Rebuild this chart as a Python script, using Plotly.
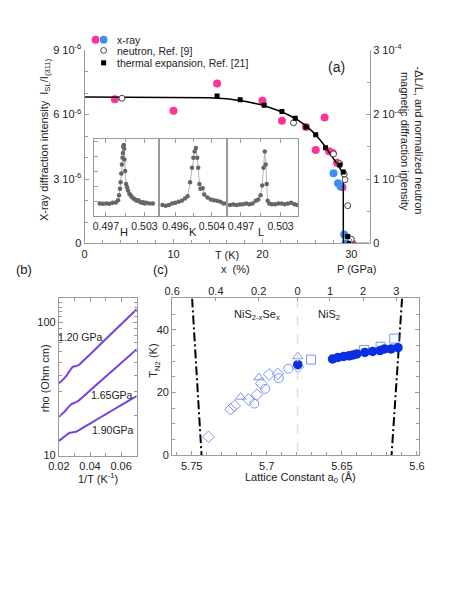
import plotly.graph_objects as go

W, H = 457, 591
OFF = 8  # page body margin
FONT = "Arial, Liberation Sans, sans-serif"
GRAY = "#9a9a9a"
PINK = "#ff3399"
BLUE = "#3d8ef5"
DEEP = "#0a2fe0"
LIGHT = "#7c96f0"
PURPLE = "#7b3fe0"

# ---------------- panel (a): order parameter vs T ----------------
xray_pink_T = [3.4, 10.0, 14.9, 20.0, 22.2, 24.9, 26.0, 27.0, 27.5, 27.9, 28.4, 29.0, 30.1]
xray_pink_I = [6.71e-6, 6.18e-6, 7.45e-6, 6.65e-6, 5.71e-6, 5.42e-6, 4.35e-6, 5.86e-6,
               4.29e-6, 4.21e-6, 3.76e-6, 2.62e-6, 0.0]
xray_blue_T = [28.0, 28.5, 28.8, 29.2, 29.4]
xray_blue_I = [3.27e-6, 2.80e-6, 2.65e-6, 0.42e-6, 0.01e-6]

# right axis units (-dL/L, normalized neutron)
fit_T = [0, 5, 10, 12, 14, 16, 18, 20, 22, 23, 24, 25, 26, 27, 28, 28.5, 29.1, 29.1, 32]
fit_R = [2.273e-4, 2.273e-4, 2.27e-4, 2.27e-4, 2.263e-4, 2.247e-4, 2.207e-4, 2.15e-4, 2.053e-4,
         1.99e-4, 1.913e-4, 1.817e-4, 1.69e-4, 1.517e-4, 1.327e-4, 1.217e-4, 1.083e-4, 0, 0]
thermal_T = [14.9, 17.5, 20.2, 22.2, 23.7, 24.9, 26.0, 27.1, 28.7, 29.1, 29.6, 29.8]
thermal_R = [2.287e-4, 2.23e-4, 2.147e-4, 2.047e-4, 1.943e-4, 1.807e-4, 1.687e-4, 1.487e-4,
             1.217e-4, 1.11e-4, 0.107e-4, 0.0]
neutron_T = [4.2, 23.5, 28.0, 28.7, 29.2, 29.3, 29.6, 30.0]
neutron_R = [2.253e-4, 1.873e-4, 1.39e-4, 1.237e-4, 1.077e-4, 0.99e-4, 0.587e-4, 0.067e-4]

# inset scans
scan_H = [0.49605, 0.49655, 0.49705, 0.49755, 0.49805, 0.49855, 0.4989, 0.49905, 0.4992, 0.4993,
          0.4994, 0.4995, 0.4996, 0.49965, 0.4997, 0.4998, 0.49985, 0.4999, 0.5000, 0.50015,
          0.5003, 0.50045, 0.50065, 0.50085, 0.50105, 0.5013, 0.50155, 0.5018, 0.50205, 0.5023,
          0.50255, 0.5028, 0.50305, 0.5033, 0.5038, 0.5043]
scan_H_I = [13, 12.7, 13, 12.7, 13.7, 14, 16.3, 21.3, 28, 34.7, 43.7, 53, 59.7, 64.7, 71.3, 73,
            69, 58, 46.3, 33, 29.7, 26.3, 23, 21.3, 19.7, 18, 17, 15.7, 16.3, 14.7, 13.7, 14.3,
            13, 13.7, 13, 13]
scan_K = [0.4932, 0.49389, 0.49459, 0.49531, 0.496, 0.4967, 0.49741, 0.49811, 0.49867, 0.49922,
          0.49964, 0.49994, 0.50021, 0.50048, 0.50078, 0.50099, 0.50126, 0.50147, 0.50196,
          0.50232, 0.50301, 0.50373, 0.50442, 0.50511, 0.50583, 0.50653, 0.50722]
scan_K_I = [11.3, 10.7, 11.3, 13, 13.7, 14.7, 15.7, 18, 20.3, 34.7, 49.7, 59.7, 66.3, 69.7, 59.7,
            49.7, 33, 28, 28.7, 22.3, 19, 17, 16.3, 15.7, 14.7, 13, 13]
scan_L = [0.49535, 0.49583, 0.49631, 0.49681, 0.49729, 0.49778, 0.49827, 0.49876, 0.49924,
          0.49963, 0.49997, 0.50022, 0.50041, 0.50061, 0.50076, 0.50091, 0.50105, 0.50129,
          0.50168, 0.50218, 0.50266, 0.50314, 0.50363, 0.50412, 0.50461, 0.5051, 0.50555]
scan_L_I = [11.3, 12, 11.3, 12, 12.3, 13, 12.3, 13, 15.7, 17, 21.3, 31.3, 49.7, 66.3, 53, 33,
            15.7, 13, 12.3, 12.3, 13, 13, 12.3, 13, 13.7, 12.3, 11.3]

# ---------------- panel (b): resistivity ----------------
inv_T_120 = [0.020, 0.022, 0.025, 0.028, 0.029, 0.031, 0.033, 0.035, 0.040, 0.050, 0.060, 0.070]
rho_120 = [35, 36.5, 40, 45, 46.3, 47, 48, 50.5, 57.4, 74.5, 96.6, 125]
inv_T_165 = [0.020, 0.023, 0.026, 0.028, 0.030, 0.032, 0.035, 0.040, 0.050, 0.060, 0.070]
rho_165 = [19.6, 21, 23, 24.3, 24.9, 25.5, 27.3, 30.8, 39, 49.4, 62.8]
inv_T_190 = [0.020, 0.023, 0.026, 0.028, 0.031, 0.034, 0.040, 0.050, 0.060, 0.070]
rho_190 = [12.9, 13.7, 14.6, 14.9, 15.1, 15.8, 17.4, 20.4, 23.9, 28.0]

# ---------------- panel (c): T_N2 vs lattice constant ----------------
a_pressure = [5.6793, 5.6562, 5.6526, 5.6488, 5.6452, 5.6425, 5.6400, 5.6347, 5.6295,
              5.6246, 5.6216, 5.6172, 5.6126]
tn_pressure = [28.9, 30.7, 31.2, 31.5, 31.7, 32.0, 32.3, 32.8, 33.1, 33.4, 33.9, 33.9, 34.3]
a_diamond = [5.7388, 5.7241, 5.7214, 5.7121, 5.7066, 5.7037, 5.6984, 5.6926, 5.6793]
tn_diamond = [5.9, 14.7, 15.8, 17.8, 19.3, 22.9, 25.8, 26.0, 28.2]
a_triangle = [5.7174, 5.7052, 5.6793]
tn_triangle = [18.6, 24.8, 31.5]
a_circle = [5.7083, 5.7010, 5.6920, 5.6856]
tn_circle = [16.5, 21.2, 24.6, 27.6]
a_square = [5.6705, 5.6352, 5.6242, 5.6151]
tn_square = [30.5, 33.6, 34.6, 37.2]
bound_left_a = [5.7497, 5.7434]
bound_right_a = [5.6099, 5.6169]
bound_T = [50, 0]
a_nis2 = [5.6795, 5.6795]
top_x_vals = [5.763, 5.7339, 5.7054, 5.6795, 5.6579, 5.6358, 5.6137]
top_x_text = ["0.6", "0.4", "0.2", "0", "1", "2", "3"]


def px(x):
    return (x - OFF) / W


def py(y):
    return 1 - (y - OFF) / H


def ax(**kw):
    d = dict(showline=True, linecolor=GRAY, linewidth=1, ticks="inside", tickcolor=GRAY,
             ticklen=4, showgrid=False, zeroline=False,
             tickfont=dict(size=11, color="#222", family=FONT))
    d.update(kw)
    return d


def minor(vals=None, dtick=None):
    m = dict(ticks="inside", ticklen=3, tickcolor=GRAY)
    if vals is not None:
        m["tickvals"] = vals
    if dtick is not None:
        m["dtick"] = dtick
    return m


fig = go.Figure()

# panel (a)
fig.add_trace(go.Scatter(x=xray_pink_T, y=xray_pink_I, mode="markers", xaxis="x", yaxis="y",
                         marker=dict(color=PINK, size=8)))
fig.add_trace(go.Scatter(x=xray_blue_T, y=xray_blue_I, mode="markers", xaxis="x", yaxis="y",
                         marker=dict(color=BLUE, size=8)))
fig.add_trace(go.Scatter(x=fit_T, y=fit_R, mode="lines", xaxis="x", yaxis="y2",
                         line=dict(color="black", width=1.5)))
fig.add_trace(go.Scatter(x=neutron_T, y=neutron_R, mode="markers", xaxis="x", yaxis="y2",
                         marker=dict(color="white", size=6, line=dict(color="#444", width=1))))
fig.add_trace(go.Scatter(x=thermal_T, y=thermal_R, mode="markers", xaxis="x", yaxis="y2",
                         marker=dict(color="black", size=5, symbol="square")))

# inset
for xs, ys, n in [(scan_H, scan_H_I, "3"), (scan_K, scan_K_I, "4"), (scan_L, scan_L_I, "5")]:
    fig.add_trace(go.Scatter(x=xs, y=ys, mode="lines+markers", xaxis="x" + n, yaxis="y" + n,
                             line=dict(color="#b5b5b5", width=1),
                             marker=dict(color="#666", size=4.5)))

# panel (b)
for xs, ys in [(inv_T_120, rho_120), (inv_T_165, rho_165), (inv_T_190, rho_190)]:
    fig.add_trace(go.Scatter(x=xs, y=ys, mode="lines", xaxis="x6", yaxis="y6",
                             line=dict(color=PURPLE, width=2, shape="spline")))

# panel (c)
fig.add_trace(go.Scatter(x=a_nis2, y=bound_T, mode="lines", xaxis="x8", yaxis="y7",
                         line=dict(color="#dddddd", width=1.5, dash="dash")))
for xs in [bound_left_a, bound_right_a]:
    fig.add_trace(go.Scatter(x=xs, y=bound_T, mode="lines", xaxis="x7", yaxis="y7",
                             line=dict(color="black", width=2, dash="9px,3px,2px,3px")))
for xs, ys, sym in [(a_diamond, tn_diamond, "diamond-open"),
                    (a_triangle, tn_triangle, "triangle-up-open"),
                    (a_circle, tn_circle, "circle-open"),
                    (a_square, tn_square, "square-open")]:
    fig.add_trace(go.Scatter(x=xs, y=ys, mode="markers", xaxis="x7", yaxis="y7",
                             marker=dict(color=LIGHT, size=9, symbol=sym, line=dict(width=1))))
fig.add_trace(go.Scatter(x=a_pressure, y=tn_pressure, mode="markers", xaxis="x7", yaxis="y7",
                         marker=dict(color=DEEP, size=9.5)))

sup = lambda m, e: f"{m} 10<sup>{e}</sup>"
fig.update_layout(
    width=W, height=H, margin=dict(l=0, r=0, t=0, b=0),
    paper_bgcolor="white", plot_bgcolor="rgba(0,0,0,0)", showlegend=False,
    font=dict(family=FONT, size=11, color="#222"),
    xaxis=ax(domain=[px(76), px(371.7)], anchor="y", range=[0, 32.1],
             tickvals=[0, 10, 20, 30], minor=minor(dtick=2)),
    yaxis=ax(domain=[py(241), py(43)], anchor="x", range=[0, 9e-6],
             tickvals=[0, 3e-6, 6e-6, 9e-6],
             ticktext=["0", sup(3, -6), sup(6, -6), sup(9, -6)],
             minor=minor([1e-6, 2e-6, 4e-6, 5e-6, 7e-6, 8e-6])),
    yaxis2=ax(overlaying="y", side="right", anchor="x", range=[0, 3e-4],
              tickvals=[0, 1e-4, 2e-4, 3e-4],
              ticktext=["0", sup(1, -4), sup(2, -4), sup(3, -4)],
              minor=minor([0.5e-4, 1.5e-4, 2.5e-4])),
    xaxis3=ax(domain=[px(86), px(153)], anchor="y3", range=[0.4952, 0.50525], mirror="ticks",
              tickvals=[0.497, 0.503], ticktext=["0.497", "0.503"],
              minor=minor([0.500]), tickfont=dict(size=10.5)),
    yaxis3=ax(domain=[py(213), py(134)], anchor="x3", range=[0, 79], mirror=True,
              tickvals=[14.7, 30.1, 45.5, 60.9, 76.3], showticklabels=False),
    xaxis4=ax(domain=[px(153), px(224)], anchor="y4", range=[0.49242, 0.50737], mirror="ticks",
              tickvals=[0.496, 0.504], ticktext=["0.496", "0.504"],
              minor=minor([0.500]), tickfont=dict(size=10.5)),
    yaxis4=ax(domain=[py(213), py(134)], anchor="x4", range=[0, 79], mirror=True,
              ticks="", showticklabels=False),
    xaxis5=ax(domain=[px(224), px(297)], anchor="y5", range=[0.49495, 0.50563], mirror="ticks",
              tickvals=[0.497, 0.503], ticktext=["0.497", "0.503"],
              minor=minor([0.500]), tickfont=dict(size=10.5)),
    yaxis5=ax(domain=[py(213), py(134)], anchor="x5", range=[0, 79], mirror=True,
              ticks="", showticklabels=False),
    xaxis6=ax(domain=[px(49.3), px(130)], anchor="y6", range=[0.02, 0.07], mirror="ticks",
              tickvals=[0.02, 0.04, 0.06], ticktext=["0.02", "0.04", "0.06"],
              minor=minor([0.03, 0.05, 0.07])),
    yaxis6=ax(domain=[py(458.3), py(297.3)], anchor="x6", type="log", range=[1, 2.1786],
              mirror="ticks", tickvals=[10, 100], ticktext=["10", "100"],
              minor=minor([20, 30, 40, 50, 60, 70, 80, 90, 110, 120, 130, 140, 150])),
    xaxis7=ax(domain=[px(166.7), px(422.7)], anchor="y7", range=[5.763, 5.5985], mirror=True,
              tickvals=[5.75, 5.7, 5.65, 5.6], ticktext=["5.75", "5.7", "5.65", "5.6"],
              minor=minor([5.76, 5.74, 5.73, 5.72, 5.71, 5.69, 5.68, 5.67, 5.66,
                           5.64, 5.63, 5.62, 5.61])),
    xaxis8=ax(overlaying="x7", side="top", anchor="y7", range=[5.763, 5.5985], showline=False,
              tickvals=top_x_vals, ticktext=top_x_text, ticklen=3),
    yaxis7=ax(domain=[py(458), py(297.3)], anchor="x7", range=[0, 50], mirror="ticks",
              tickvals=[0, 20, 40], minor=minor([5, 10, 15, 25, 30, 35, 45])),
)

ann = []


def label(x, y, text, size=11, angle=0, xanchor="center"):
    ann.append(dict(x=px(x), y=py(y), xref="paper", yref="paper", text=text, showarrow=False,
                    textangle=angle, xanchor=xanchor, yanchor="middle",
                    font=dict(size=size, family=FONT, color="#222")))


# panel (a) text
label(35, 135, "X-ray diffraction intensity  I<sub>SL</sub>/I<sub>(311)</sub>", 11, -90)
label(423, 136, "-ΔL/L, and normalized neutron", 11, 90)
label(408, 137, "magnetic diffraction intensity", 11, 90)
label(224, 253, "T (K)")
label(337, 60, "(a)", 14)
label(108, 32.3, "x-ray", 10.5, xanchor="left")
label(108, 43.6, "neutron, Ref. [9]", 10.5, xanchor="left")
label(108, 56, "thermal expansion, Ref. [21]", 10.5, xanchor="left")
label(117, 229, "H", 11)
label(188, 229, "K", 11)
label(259, 229, "L", 11)
# panel (b) text
label(13, 268, "(b)", 13)
label(35, 379, "rho (Ohm cm)", 11, -90)
label(90, 481, "1/T (K<sup>-1</sup>)")
label(72, 337, "1.20 GPa", 10.5)
label(104, 396, "1.65GPa", 10.5)
label(105, 432, "1.90GPa", 10.5)
# panel (c) text
label(155, 268, "(c)", 13)
label(232, 267, "x  (%)")
label(358, 267, "P (GPa)")
label(148, 361, "T<sub>N2</sub> (K)", 11, -90)
label(300, 481, "Lattice Constant a<sub>0</sub> (Å)")
label(255, 314, "NiS<sub>2-x</sub>Se<sub>x</sub>")
label(329, 314, "NiS<sub>2</sub>")

shapes = []


def dot(cx, cy, r, fill, line="rgba(0,0,0,0)", kind="circle"):
    shapes.append(dict(type=kind, xref="paper", yref="paper", x0=px(cx - r), x1=px(cx + r),
                       y0=py(cy + r), y1=py(cy - r), fillcolor=fill, line=dict(color=line, width=1)))


dot(87.3, 32.3, 4, PINK)
dot(95.7, 32.3, 4, BLUE)
dot(95.7, 43.3, 3, "white", "#444")
dot(95.7, 56, 2.6, "black", kind="rect")

fig.update_layout(annotations=ann, shapes=shapes)
fig.write_html("out.html")
